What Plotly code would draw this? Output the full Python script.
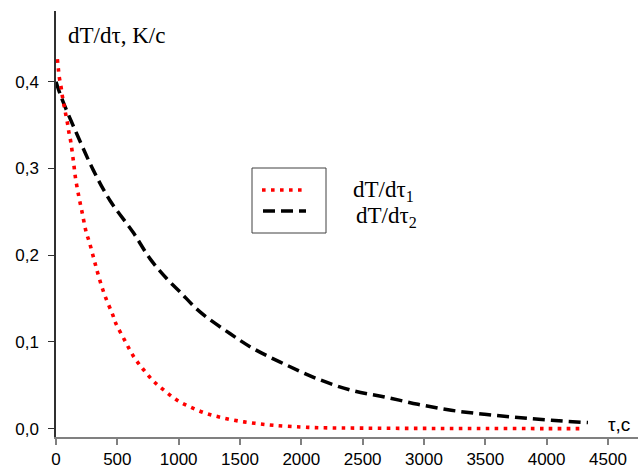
import plotly.graph_objects as go

# ---- data ----
tau1 = [11, 19, 27, 41, 51, 65, 79, 95, 106, 120, 141, 160, 187, 215, 245, 272, 312, 353,
        402, 462, 489, 557, 630, 707, 793, 891, 997, 1111, 1228, 1351, 1486, 1622, 1772,
        1989, 2150, 2500, 3000, 3500, 4000, 4280]
dTdt1 = [0.426, 0.415, 0.405, 0.394, 0.384, 0.373, 0.3625, 0.351, 0.341, 0.331, 0.3095,
         0.288, 0.267, 0.248, 0.227, 0.215, 0.194, 0.173, 0.152, 0.1315, 0.121, 0.1026,
         0.0838, 0.069, 0.055, 0.043, 0.0318, 0.0238, 0.0173, 0.0127, 0.0088, 0.0061,
         0.0038, 0.0019, 0.001, 0.0005, 0.0002, 0.0001, 0.0, 0.0]

tau2 = [0, 46, 169, 304, 440, 630, 766, 902, 1011, 1174, 1418, 1608, 1853, 2125, 2407,
        2679, 2951, 3222, 3494, 3766, 4038, 4337]
dTdt2 = [0.400, 0.381, 0.340, 0.298, 0.263, 0.226, 0.196, 0.173, 0.1576, 0.1345, 0.1096,
         0.0923, 0.075, 0.0577, 0.0442, 0.0365, 0.028, 0.0211, 0.0165, 0.0127, 0.0096,
         0.0069]

x_ticks = [0, 500, 1000, 1500, 2000, 2500, 3000, 3500, 4000, 4500]
y_ticks = [0.0, 0.1, 0.2, 0.3, 0.4]

y_title = "dT/dτ, K/c"
x_title = "τ,c"
name1 = "dT/dτ<sub>1</sub>"
name2 = "dT/dτ<sub>2</sub>"

W, H = 638, 469
L, R, T, B = 56, 0, 11, 32
PW, PH = W - L - R, H - T - B


def px(x):
    return (x - L) / PW


def py(y):
    return (H - B - y) / PH


fig = go.Figure()
fig.add_trace(go.Scatter(x=tau2, y=dTdt2, mode="lines", name=name2,
                         line=dict(color="black", width=3.5, dash="12px,6px", shape="spline"),
                         showlegend=False, hoverinfo="skip"))
fig.add_trace(go.Scatter(x=tau1, y=dTdt1, mode="lines", name=name1,
                         line=dict(color="#ff0000", width=3.6, dash="3.6px,5.4px", shape="spline"),
                         showlegend=False, hoverinfo="skip"))

serif = "Liberation Serif, Times New Roman, serif"
sans = "Liberation Sans, Arial, sans-serif"

shapes = [
    # legend box
    dict(type="rect", xref="paper", yref="paper", x0=px(252), x1=px(326), y0=py(233), y1=py(168),
         line=dict(color="#404040", width=1), fillcolor="white", layer="above"),
    dict(type="line", xref="paper", yref="paper", x0=px(262), x1=px(305), y0=py(190), y1=py(190),
         line=dict(color="#ff0000", width=3.6, dash="3.6px,5.4px")),
    dict(type="line", xref="paper", yref="paper", x0=px(263), x1=px(306), y0=py(211), y1=py(211),
         line=dict(color="black", width=3.5, dash="12px,6px")),
]

annotations = [
    dict(text=y_title, xref="paper", yref="paper", x=px(66), y=py(35), xanchor="left",
         yanchor="middle", showarrow=False, font=dict(family=serif, size=23, color="black")),
    dict(text=x_title, xref="paper", yref="paper", x=px(606), y=py(424), xanchor="left",
         yanchor="middle", showarrow=False, font=dict(family=sans, size=19, color="black")),
    dict(text=name1, xref="paper", yref="paper", x=px(351), y=py(191), xanchor="left",
         yanchor="middle", showarrow=False, font=dict(family=serif, size=23, color="black")),
    dict(text=name2, xref="paper", yref="paper", x=px(354), y=py(217), xanchor="left",
         yanchor="middle", showarrow=False, font=dict(family=serif, size=23, color="black")),
]

fig.update_layout(
    width=W, height=H,
    margin=dict(l=L, r=R, t=T, b=B, pad=0),
    paper_bgcolor="white", plot_bgcolor="white",
    separators=", ",
    showlegend=False,
    shapes=shapes,
    annotations=annotations,
    xaxis=dict(range=[0, 4745], tickvals=x_ticks, showgrid=False, zeroline=False,
               showline=True, linecolor="#808080", linewidth=2,
               ticks="outside", ticklen=6, tickwidth=1.5, tickcolor="#808080",
               tickfont=dict(family=sans, size=17, color="black")),
    yaxis=dict(range=[-0.0097, 0.4815], tickvals=y_ticks, tickformat=".1f", showgrid=False,
               zeroline=False, showline=True, linecolor="#303030", linewidth=1.5,
               ticks="outside", ticklen=6, tickwidth=1.2, tickcolor="#303030",
               ticklabelstandoff=6,
               tickfont=dict(family=sans, size=17, color="black")),
)

fig.write_html("out.html", config={"displayModeBar": False},
               post_script="document.body.style.margin='0';document.body.style.overflow='hidden';")
